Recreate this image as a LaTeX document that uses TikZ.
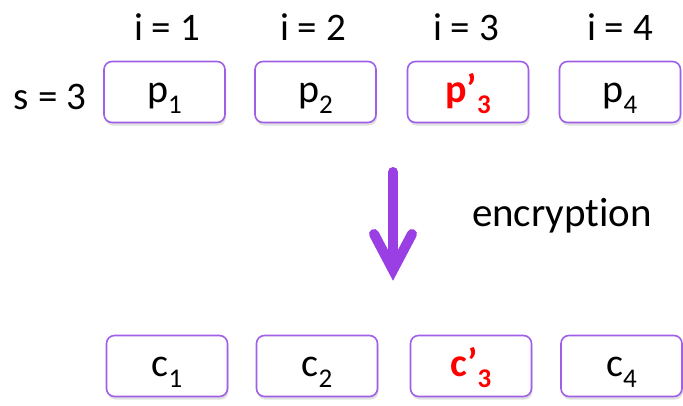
\documentclass[tikz,border=0pt]{standalone}
\usepackage{fontspec}
\setmainfont{Carlito}[Ligatures=NoCommon]
\usetikzlibrary{positioning, calc}

\definecolor{boxpurple}{HTML}{9F5FE6}
\definecolor{arrpurple}{HTML}{9A3FE4}
\definecolor{hotred}{HTML}{FF0000}

\newcommand{\lowsub}[1]{\raisebox{-0.28em}{\fontsize{27}{27}\selectfont #1}}

\tikzset{
  blockbox/.style={draw=boxpurple, line width=1.6pt, rounded corners=8pt, fill=white,
    minimum width=121pt, minimum height=61pt, inner sep=0pt,
    text height=25pt, text depth=4pt,
    font=\fontsize{40}{44}\selectfont},
  shadowbox/.style={draw=none, fill=black!12, rounded corners=8pt,
    minimum width=121pt, minimum height=61pt},
  lbl/.style={inner sep=0pt, font=\fontsize{39}{44}\selectfont}
}

\begin{document}
\begin{tikzpicture}[x=1pt, y=-1pt, line join=round, line cap=round]
      \useasboundingbox (0,0) rectangle (683,405);
      % index labels
      \node[lbl] (i1) at (167,27) {i = 1};
      \node[lbl] (i2) at (313,27) {i = 2};
      \node[lbl] (i3) at (466,27) {i = 3};
      \node[lbl] (i4) at (620,27) {i = 4};
      \node[lbl] (s) at (50,97) {s = 3};
      % soft shadows
      \foreach \cx/\cy in {164.5/92, 315.5/92, 468/92, 620/92, 167/366, 317/366, 471/366, 621.5/366}
        \node[shadowbox] at (\cx+1,\cy+3) {};
      % plaintext blocks
      \node[blockbox] (p1) at (164.5,92) {p\lowsub{1}};
      \node[blockbox] (p2) at (315.5,92) {p\lowsub{2}};
      \node[blockbox] (p3) at (468,92) {\color{hotred}\bfseries p’\lowsub{\bfseries 3}};
      \node[blockbox] (p4) at (620,92) {p\lowsub{4}};
      % ciphertext blocks
      \node[blockbox] (c1) at (167,366) {c\lowsub{1}};
      \node[blockbox] (c2) at (317,366) {c\lowsub{2}};
      \node[blockbox] (c3) at (471,366) {\color{hotred}\bfseries c’\lowsub{\bfseries 3}};
      \node[blockbox] (c4) at (621.5,366) {c\lowsub{4}};
      % encryption arrow
      \coordinate (top) at (393,172);
      \coordinate (tip) at (393,270);
      \coordinate (wl) at (374,234);
      \coordinate (wr) at (412,234);
      \draw[arrpurple, line width=10pt] (top) -- (tip);
      \draw[arrpurple, line width=10pt, line join=miter] (wl) -- (tip) -- (wr);
      \node[lbl, font=\fontsize{41}{46}\selectfont] (enc) at (562,216) {encryption};
    \end{tikzpicture}
\end{document}
